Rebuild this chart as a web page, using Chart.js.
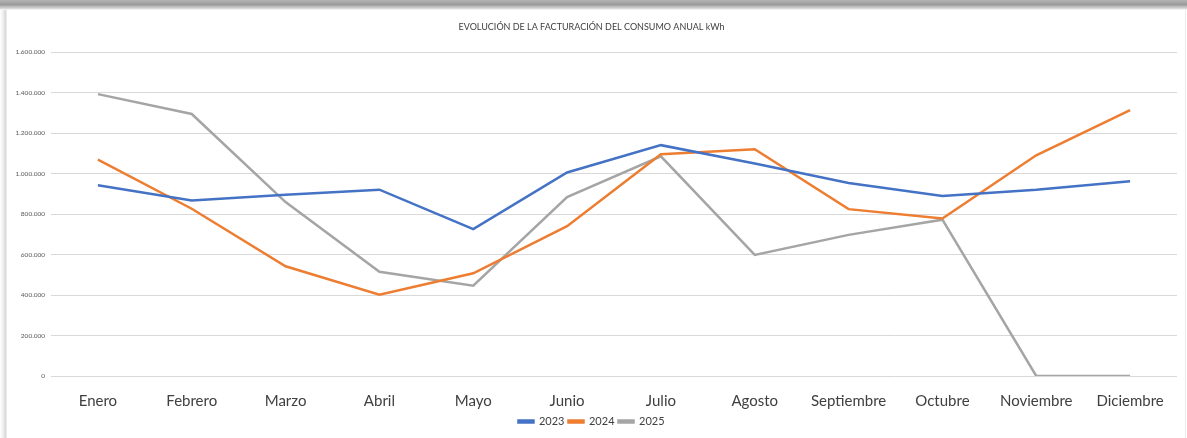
<!DOCTYPE html>
<html>
<head>
<meta charset="utf-8">
<script src="https://cdn.jsdelivr.net/npm/chart.js@4.4.1/dist/chart.umd.min.js"></script>
<style>
  html, body { margin: 0; padding: 0; background: #fff; }
  .wrap { position: relative; width: 1187px; height: 438px; overflow: hidden; }
  .shade-top { position: absolute; left: 0; top: 0; width: 1187px; height: 10px;
    background: linear-gradient(to bottom, #b5b5b5 0%, #9a9a9a 45%, #d8d8d8 85%, #ffffff 100%); }
  .shade-left { position: absolute; left: 0; top: 0; width: 7px; height: 438px;
    background: linear-gradient(to right, #ffffff 0%, #f0f0f0 40%, #d6d6d6 85%, #ffffff 100%); }
  .shade-right { position: absolute; right: 1px; top: 10px; width: 1px; height: 428px; background: #ececec; }
  canvas { position: absolute; left: 0; top: 0; }
</style>
</head>
<body>
<div class="wrap">
  <div class="shade-left"></div>
  <div class="shade-top"></div>
  <div class="shade-right"></div>
  <canvas id="line-chart" width="1187" height="438"></canvas>
</div>
<script>
const months = ["Enero", "Febrero", "Marzo", "Abril", "Mayo", "Junio", "Julio",
                "Agosto", "Septiembre", "Octubre", "Noviembre", "Diciembre"];

const values_2023 = [942000, 867000, 895000, 920000, 725000, 1005000, 1140000, 1049000, 953000, 889000, 920000, 962000];
const values_2024 = [1069000, 826000, 542000, 401000, 507000, 740000, 1095000, 1120000, 824000, 778000, 1090000, 1313000];
const values_2025 = [1392000, 1294000, 859000, 515000, 446000, 884000, 1085000, 598000, 697000, 772000, 0, 0];

const series_labels = ["2023", "2024", "2025"];
const series_colours = ["#4472C4", "#ED7D31", "#A5A5A5"];

const font_family = "Lato, 'Open Sans', sans-serif";

function makeLine(label, data, colour) {
  return {
    label: label,
    data: data,
    fill: false,
    borderColor: colour,
    backgroundColor: colour,
    borderWidth: 2.5,
    pointRadius: 0,
    tension: 0
  };
}

const ctx = document.getElementById("line-chart").getContext("2d");

new Chart(ctx, {
  type: "line",
  data: {
    labels: months,
    datasets: [
      makeLine(series_labels[0], values_2023, series_colours[0]),
      makeLine(series_labels[1], values_2024, series_colours[1]),
      makeLine(series_labels[2], values_2025, series_colours[2])
    ]
  },
  options: {
    responsive: false,
    animation: false,
    layout: { padding: { left: 6, right: 10, top: 0, bottom: 1 } },
    scales: {
      x: {
        offset: true,
        grid: { display: false, drawTicks: false },
        border: { display: false },
        afterFit: (scale) => { scale.height = 36; },   // labels sit low, legend close under them
        ticks: { color: "#404040", padding: 16, maxRotation: 0, font: { family: font_family, size: 15 } }
      },
      y: {
        min: 0,
        max: 1600000,
        grid: { color: "#d9d9d9", lineWidth: 1, drawTicks: false },
        border: { display: false },
        afterFit: (scale) => { scale.width = 45; },   // keep plot left edge at ~51px
        ticks: {
          stepSize: 200000,
          padding: 6,
          color: "#595959",
          font: { family: font_family, size: 6.5 },
          callback: (v) => Number(v).toLocaleString("de-DE")
        }
      }
    },
    plugins: {
      title: {
        display: true,
        text: "EVOLUCIÓN DE LA FACTURACIÓN DEL CONSUMO ANUAL kWh",
        color: "#404040",
        font: { family: font_family, size: 9, weight: "normal" },
        padding: { top: 21.5, bottom: 19.7 }
      },
      legend: {
        position: "bottom",
        labels: {
          boxWidth: 15,
          boxHeight: 2,
          padding: 4,
          color: "#404040",
          font: { family: font_family, size: 11 }
        }
      },
      tooltip: { enabled: false }
    }
  }
});
</script>
</body>
</html>
